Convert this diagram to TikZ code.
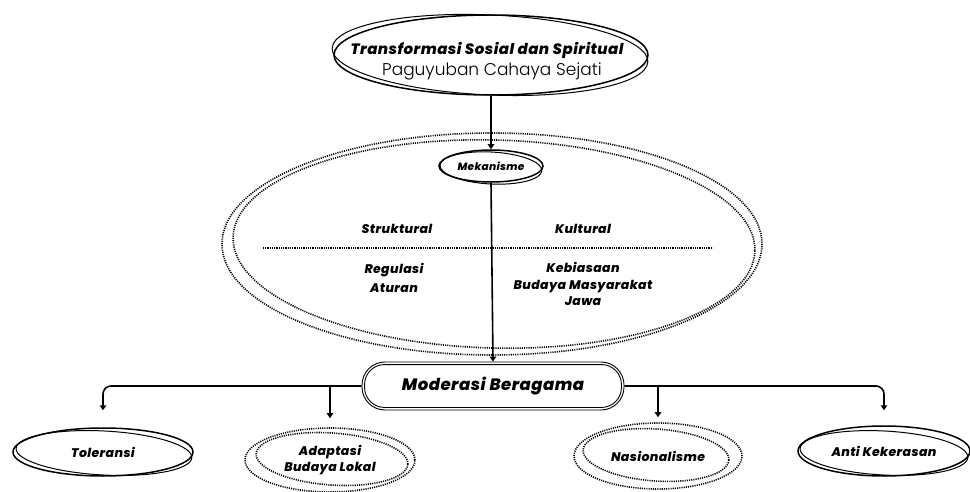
\documentclass[tikz,border=0pt]{standalone}
\usepackage{fontspec}
\setmainfont{Poppins}[BoldItalicFont={Poppins ExtraBold Italic}, LetterSpace=3]
\newfontfamily\thinfont{Poppins Light}
\usetikzlibrary{shapes.geometric,arrows.meta,calc}
\tikzset{
  lbl/.style={font=\bfseries\itshape, align=center, inner sep=1pt},
  ellnode/.style={ellipse, draw, line width=1.5pt, align=center, font=\bfseries\itshape},
  extraline/.style={line width=1pt},
  dotline/.style={line width=1.6pt, dash pattern=on 1.1pt off 1.1pt},
  dotnode/.style={ellipse, draw, line width=1.6pt, dash pattern=on 1.1pt off 1.1pt, align=center, font=\bfseries\itshape},
  arr/.style={line width=1.6pt, -{Triangle[length=5pt,width=6.5pt]}},
  txt/.style={lbl, font=\fontsize{12.5}{19}\selectfont\bfseries\itshape},
}
\begin{document}
\begin{tikzpicture}[x=1pt,y=-1pt]
\useasboundingbox (0,0) rectangle (970,492);
\fill[white] (0,0) rectangle (970,492);

% top node
\node[ellnode, minimum width=314, minimum height=80, inner sep=0pt] (top) at (491,55) {};
\draw[extraline, rotate around={-2.5:(491,55)}] (490,55) ellipse [x radius=158, y radius=40];
\node[lbl, font=\fontsize{15}{17}\selectfont\bfseries\itshape] (t1) at (487,50) {Transformasi Sosial dan Spiritual};
\node[inner sep=1pt, font=\fontsize{17}{19}\thinfont] (t2) at (492,71) {Paguyuban Cahaya Sejati};

% big dotted ellipse
\draw[dotline] (492,244) ellipse [x radius=270, y radius=111];
\draw[dotline, rotate around={-1.5:(494,244)}] (494,244) ellipse [x radius=261, y radius=104];

% Mekanisme
\node[ellnode, minimum width=104, minimum height=32, inner sep=0pt, font=\fontsize{10.5}{12}\selectfont\bfseries\itshape] (mek) at (491,166) {Mekanisme};
\draw[extraline, rotate around={-3:(491,167)}] (491,168) ellipse [x radius=51, y radius=16];

% inside texts
\node[txt] (str) at (397,229) {Struktural};
\node[txt] (kul) at (583,229) {Kultural};
\coordinate (dl) at (263,248);
\coordinate (dr) at (713,248);
\draw[line width=1.1pt, dash pattern=on 0.9pt off 0.9pt] (dl) -- (dr);
\node[txt] (reg) at (394,277.5) {Regulasi\\Aturan};
\node[lbl, font=\fontsize{12.5}{16.5}\selectfont\bfseries\itshape] (keb) at (583,284) {Kebiasaan\\Budaya Masyarakat\\Jawa};

% Moderasi
\node[draw, rounded corners=23pt, line width=0.9pt, minimum width=262, minimum height=48, inner sep=0pt,
  font=\fontsize{16.5}{18}\selectfont\bfseries\itshape] (mod) at (493,386) {Moderasi Beragama};
\draw[line width=0.9pt, rounded corners=20pt] ($(mod.south west)+(3,-3)$) rectangle ($(mod.north east)+(-3,3)$);

% bottom nodes
\node[ellnode, minimum width=180, minimum height=48, inner sep=0pt, font=\fontsize{12.5}{14}\selectfont\bfseries\itshape] (tol) at (103,452) {Toleransi};
\draw[extraline, rotate around={-3:(104,452)}] (104,453) ellipse [x radius=88, y radius=22];

\node[dotnode, minimum width=170, minimum height=64, inner sep=0pt, font=\fontsize{12.5}{16}\selectfont\bfseries\itshape] (ada) at (330,460) {Adaptasi\\Budaya Lokal};
\draw[dotline, rotate around={-4:(332,459)}] (332,459) ellipse [x radius=76, y radius=26];

\node[dotnode, minimum width=168, minimum height=66, inner sep=0pt, font=\fontsize{12.5}{14}\selectfont\bfseries\itshape] (nas) at (658,456) {Nasionalisme};
\draw[dotline, rotate around={-4:(656,455)}] (656,455) ellipse [x radius=73, y radius=26];

\node[ellnode, minimum width=172, minimum height=50, inner sep=0pt, font=\fontsize{12.5}{14}\selectfont\bfseries\itshape] (ant) at (884,451) {Anti Kekerasan};
\draw[extraline, rotate around={-3:(884,452)}] (884,453) ellipse [x radius=84, y radius=22];

% connectors
\draw[arr] (top.south) -- (mek.north);
\draw[arr] (mek.south) -- (mod.north);
\draw[arr, rounded corners=8pt] (mod.west) -| ([yshift=17]tol.north);
\draw[arr, rounded corners=8pt] (mod.east) -| ([yshift=15]ant.north);
\coordinate (bl) at (mod.west -| ada.north);
\coordinate (br) at (mod.east -| nas.north);
\draw[arr] (bl) -- ([yshift=9]ada.north);
\draw[arr] (br) -- ([yshift=5]nas.north);
\end{tikzpicture}
\end{document}
